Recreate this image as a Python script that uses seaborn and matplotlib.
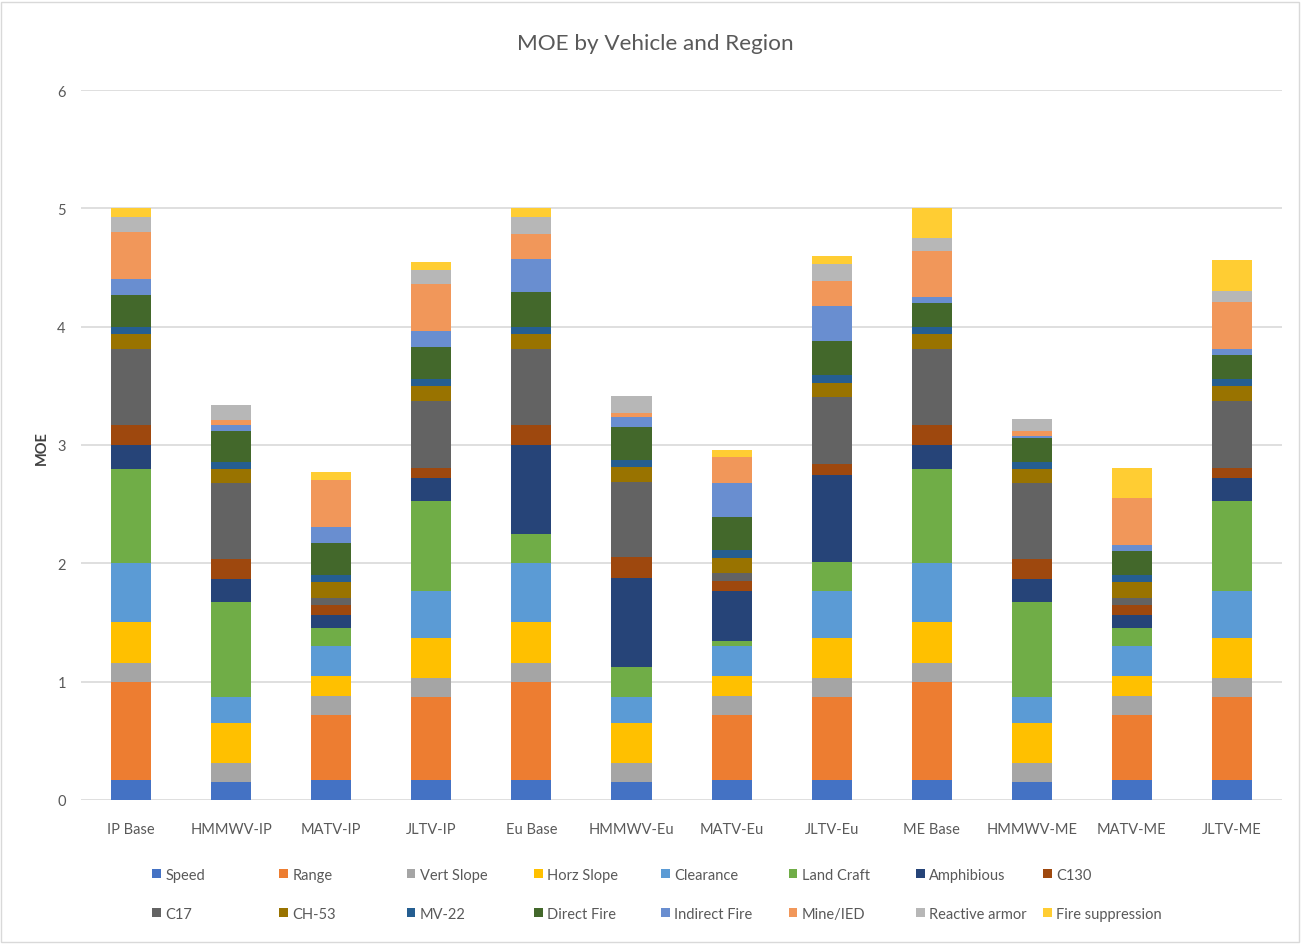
import pandas as pd
import matplotlib
matplotlib.use("Agg")
import matplotlib.pyplot as plt
from matplotlib.patches import Patch, Rectangle
import seaborn as sns

# --- data ---
vehicles = ["IP Base", "HMMWV-IP", "MATV-IP", "JLTV-IP",
            "Eu Base", "HMMWV-Eu", "MATV-Eu", "JLTV-Eu",
            "ME Base", "HMMWV-ME", "MATV-ME", "JLTV-ME"]

measures = ["Speed", "Range", "Vert Slope", "Horz Slope", "Clearance",
            "Land Craft", "Amphibious", "C130", "C17", "CH-53", "MV-22",
            "Direct Fire", "Indirect Fire", "Mine/IED", "Reactive armor",
            "Fire suppression"]

speed      = [0.17, 0.15, 0.17, 0.17, 0.17, 0.15, 0.17, 0.17, 0.17, 0.15, 0.17, 0.17]
range_     = [0.83, 0.00, 0.55, 0.70, 0.83, 0.00, 0.55, 0.70, 0.83, 0.00, 0.55, 0.70]
vert_slope = [0.16, 0.16, 0.16, 0.16, 0.16, 0.16, 0.16, 0.16, 0.16, 0.16, 0.16, 0.16]
horz_slope = [0.34, 0.34, 0.17, 0.34, 0.34, 0.34, 0.17, 0.34, 0.34, 0.34, 0.17, 0.34]
clearance  = [0.50, 0.22, 0.25, 0.40, 0.50, 0.22, 0.25, 0.40, 0.50, 0.22, 0.25, 0.40]
land_craft = [0.80, 0.80, 0.15, 0.76, 0.25, 0.25, 0.045, 0.24, 0.80, 0.80, 0.15, 0.76]
amphibious = [0.20, 0.20, 0.11, 0.19, 0.75, 0.76, 0.42, 0.74, 0.20, 0.20, 0.11, 0.19]
c130       = [0.17, 0.17, 0.09, 0.085, 0.17, 0.17, 0.085, 0.088, 0.17, 0.17, 0.09, 0.085]
c17        = [0.64, 0.64, 0.06, 0.565, 0.64, 0.64, 0.067, 0.565, 0.64, 0.64, 0.06, 0.565]
ch53       = [0.13, 0.12, 0.13, 0.13, 0.13, 0.12, 0.126, 0.124, 0.13, 0.12, 0.13, 0.13]
mv22       = [0.06, 0.06, 0.065, 0.06, 0.06, 0.06, 0.067, 0.066, 0.06, 0.06, 0.065, 0.06]
direct     = [0.27, 0.26, 0.27, 0.27, 0.29, 0.28, 0.28, 0.29, 0.20, 0.20, 0.20, 0.20]
indirect   = [0.13, 0.05, 0.13, 0.13, 0.28, 0.09, 0.29, 0.29, 0.05, 0.02, 0.05, 0.05]
mine_ied   = [0.40, 0.04, 0.40, 0.40, 0.21, 0.03, 0.22, 0.21, 0.39, 0.04, 0.40, 0.40]
reactive   = [0.13, 0.13, 0.00, 0.12, 0.15, 0.14, 0.00, 0.145, 0.11, 0.10, 0.00, 0.09]
fire_supp  = [0.07, 0.00, 0.065, 0.07, 0.07, 0.00, 0.06, 0.07, 0.25, 0.00, 0.25, 0.26]

colors = ["#4472C4", "#ED7D31", "#A5A5A5", "#FFC000", "#5B9BD5", "#70AD47",
          "#264478", "#9E480E", "#636363", "#997300", "#255E91", "#43682B",
          "#698ED0", "#F1975A", "#B7B7B7", "#FFCD33"]

series = [speed, range_, vert_slope, horz_slope, clearance, land_craft,
          amphibious, c130, c17, ch53, mv22, direct, indirect, mine_ied,
          reactive, fire_supp]

rows = []
for m, vals in zip(measures, series):
    for v, val in zip(vehicles, vals):
        rows.append({"vehicle": v, "measure": m, "moe": val})
df = pd.DataFrame(rows)

sns.set_style("white")
plt.rcParams['font.family'] = ['Lato', 'DejaVu Sans']
text_color = "#595959"

fig = plt.figure(figsize=(13.01, 9.45), dpi=100)
ax = fig.add_axes([0.0623, 0.1524, 0.9231, 0.7513])

# seaborn stacks the first hue level on top, so feed the order reversed
sns.histplot(data=df, x="vehicle", hue="measure", weights="moe",
             multiple="stack", discrete=True, shrink=0.4,
             hue_order=measures[::-1], palette=dict(zip(measures, colors)),
             linewidth=0, alpha=1, legend=False, ax=ax)

ax.set_xlim(-0.5, len(vehicles) - 0.5)
ax.set_ylim(0, 6)
ax.set_yticks(range(0, 7))
ax.set_xticks(range(len(vehicles)))
ax.set_xticklabels(vehicles)
ax.yaxis.grid(True, color="#D9D9D9", linewidth=1.2)
ax.set_axisbelow(True)
for s in ax.spines.values():
    s.set_visible(False)
ax.tick_params(axis="x", length=0, pad=16, labelsize=10.5, labelcolor=text_color)
ax.tick_params(axis="y", length=0, pad=11, labelsize=10.5, labelcolor=text_color)
ax.set_xlabel("")
ax.set_ylabel("")

fig.text(42 / 1301, 1 - 448 / 945, "MOE", rotation=90, ha="center", va="center",
         fontsize=10.5, fontweight="bold", color="#404040")
fig.text(655 / 1301, 1 - 44 / 945, "MOE by Vehicle and Region", ha="center",
         va="center", fontsize=16.2, color=text_color)

# legend: 2 rows x 8 evenly spaced columns
for i, (m, c) in enumerate(zip(measures, colors)):
    col, row = i % 8, i // 8
    x = (152 + 127.3 * col) / 1301
    y = 1 - (876 + 39 * row) / 945
    fig.legend(handles=[Patch(facecolor=c, edgecolor="none", label=m)],
               loc="center left", bbox_to_anchor=(x, y), frameon=False,
               borderpad=0, borderaxespad=0, handlelength=0.6, handleheight=0.6,
               handletextpad=0.3, fontsize=10.5, labelcolor=text_color)

fig.patches.append(Rectangle((1 / 1301, 2 / 945), 1298 / 1301, 940 / 945,
                             transform=fig.transFigure, fill=False,
                             edgecolor="#D9D9D9", linewidth=1))

fig.savefig("out.png", dpi=100)
